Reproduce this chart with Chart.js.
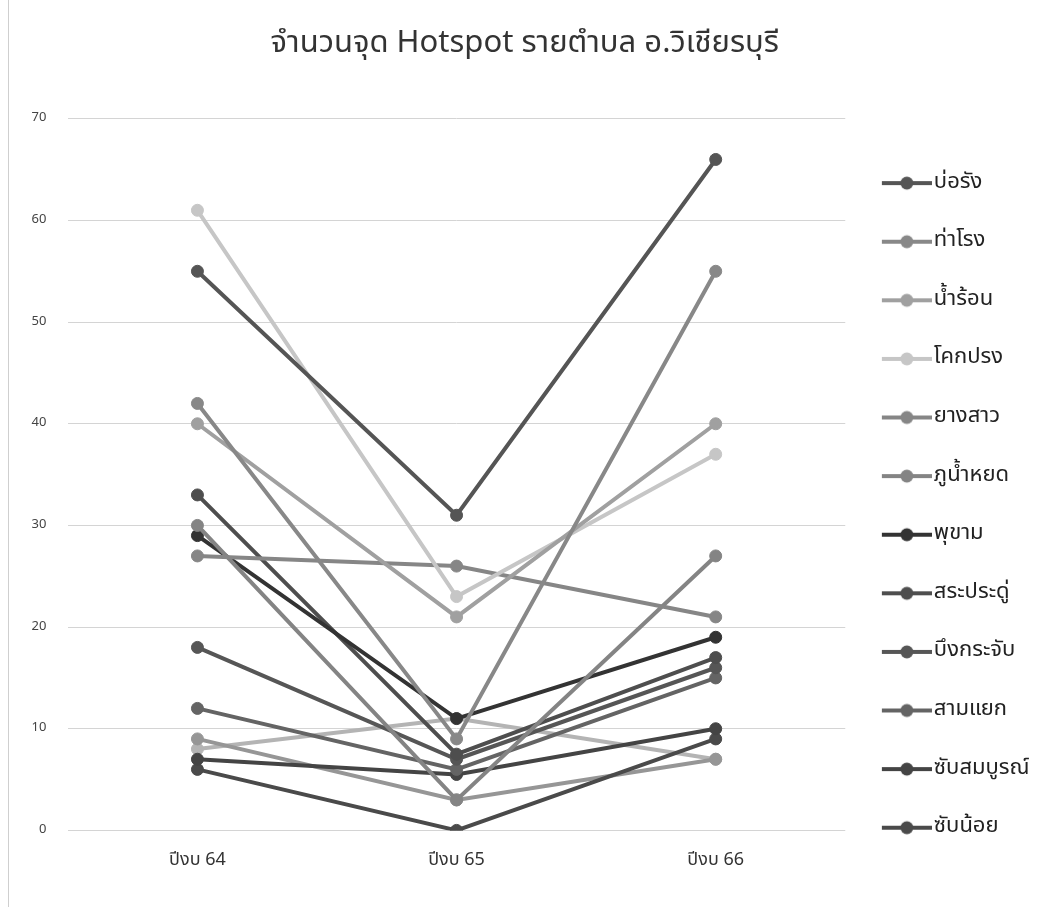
<!DOCTYPE html>
<html>
<head>
<meta charset="utf-8">
<script src="https://cdn.jsdelivr.net/npm/chart.js@4.4.0/dist/chart.umd.min.js"></script>
<style>
  html, body { margin: 0; padding: 0; background: #fff; }
  #wrap { position: relative; width: 1048px; height: 907px; }
  #frame { position: absolute; left: 8px; top: 0; width: 0; height: 907px; border-left: 1px solid #cfcfcf; }
</style>
</head>
<body>
<div id="wrap">
  <div id="frame"></div>
  <canvas id="chart" width="1048" height="907"></canvas>
</div>
<script>
var years = ["ปีงบ 64", "ปีงบ 65", "ปีงบ 66"];

// tambon names, the last two are not shown in the legend (it was cut off)
var tambons = ["บ่อรัง", "ท่าโรง", "น้ำร้อน", "โคกปรง", "ยางสาว", "ภูน้ำหยด",
               "พุขาม", "สระประดู่", "บึงกระจับ", "สามแยก", "ซับสมบูรณ์", "ซับน้อย",
               "พุเตย", "วังใหญ่"];

var boRang      = [55, 31, 66];
var thaRong     = [42, 9, 55];
var namRon      = [40, 21, 40];
var khokProng   = [61, 23, 37];
var yangSao     = [27, 26, 21];
var phuNamYot   = [30, 3, 27];
var phuKham     = [29, 11, 19];
var saPradu     = [33, 7.5, 17];
var buengKrachap= [18, 7, 16];
var samYaek     = [12, 6, 15];
var sapSombun   = [7, 5.5, 10];
var sapNoi      = [6, 0, 9];
var phuToei     = [9, 3, 7];
var wangYai     = [8, 11, 7];

var seriesValues = [boRang, thaRong, namRon, khokProng, yangSao, phuNamYot,
                    phuKham, saPradu, buengKrachap, samYaek, sapSombun, sapNoi,
                    phuToei, wangYai];

var grays = ["#555555", "#888888", "#a0a0a0", "#c6c6c6", "#868686", "#848484",
             "#333333", "#4e4e4e", "#565656", "#646464", "#444444", "#4a4a4a",
             "#969696", "#b4b4b4"];

var yTicks = [0, 10, 20, 30, 40, 50, 60, 70];

var thaiFont = "'Noto Sans Thai', 'Noto Sans', 'DejaVu Sans', sans-serif";

// little "line with marker" icon, like the excel legend.
// canvas is wider than the drawing so the text sits close to it
function legendIcon(color) {
    var c = document.createElement("canvas");
    c.width = 59;
    c.height = 16;
    var g = c.getContext("2d");
    g.strokeStyle = color;
    g.lineWidth = 4;
    g.beginPath();
    g.moveTo(9, 8);
    g.lineTo(59, 8);
    g.stroke();
    g.fillStyle = color;
    g.beginPath();
    g.arc(34, 8, 6.5, 0, Math.PI * 2);
    g.fill();
    return c;
}

var datasets = [];
seriesValues.forEach(function(vals, i) {
    datasets.push({
        label: tambons[i],
        data: vals,
        borderColor: grays[i],
        backgroundColor: grays[i],
        borderWidth: 4,
        pointRadius: 6,
        pointBorderWidth: 1,
        pointBackgroundColor: grays[i],
        pointBorderColor: grays[i],
        tension: 0
    });
});

var config = {
    type: 'line',
    data: {
        labels: years,
        datasets: datasets
    },
    options: {
        responsive: false,
        animation: false,
        layout: {
            padding: { left: 10, right: 8.5, top: 0, bottom: 23 }
        },
        plugins: {
            title: {
                display: true,
                text: 'จำนวนจุด Hotspot รายตำบล อ.วิเชียรบุรี',
                color: '#333',
                font: { family: thaiFont, size: 31, weight: 'normal' },
                padding: { top: 27, bottom: 54.6 }
            },
            legend: {
                position: 'right',
                align: 'start',
                // empty title only used to push the items down
                title: { display: true, text: ' ', font: { size: 10 }, padding: { top: 0, bottom: 123.5 } },
                labels: {
                    usePointStyle: true,
                    pointStyleWidth: 41,
                    boxHeight: 16,
                    padding: 36.6,
                    color: '#222',
                    font: { family: thaiFont, size: 22 },
                    filter: function(item) { return item.datasetIndex < 12; },
                    generateLabels: function(chart) {
                        var items = Chart.defaults.plugins.legend.labels.generateLabels(chart);
                        items.forEach(function(it) {
                            it.pointStyle = legendIcon(grays[it.datasetIndex]);
                        });
                        return items;
                    }
                }
            },
            tooltip: { enabled: false }
        },
        scales: {
            x: {
                offset: true,
                grid: { display: false },
                border: { display: false },
                ticks: {
                    color: '#333',
                    padding: 12,
                    font: { family: thaiFont, size: 18 }
                }
            },
            y: {
                min: 0,
                max: 70,
                afterBuildTicks: function(axis) {
                    axis.ticks = yTicks.map(function(v) { return { value: v }; });
                },
                grid: { color: '#d4d4d4', lineWidth: 1, drawTicks: false },
                border: { display: false },
                ticks: {
                    color: '#444',
                    padding: 21.5,
                    font: { family: thaiFont, size: 13 }
                }
            }
        }
    }
};

var ctx = document.getElementById("chart");
window.myChart = new Chart(ctx, config);
</script>
</body>
</html>
